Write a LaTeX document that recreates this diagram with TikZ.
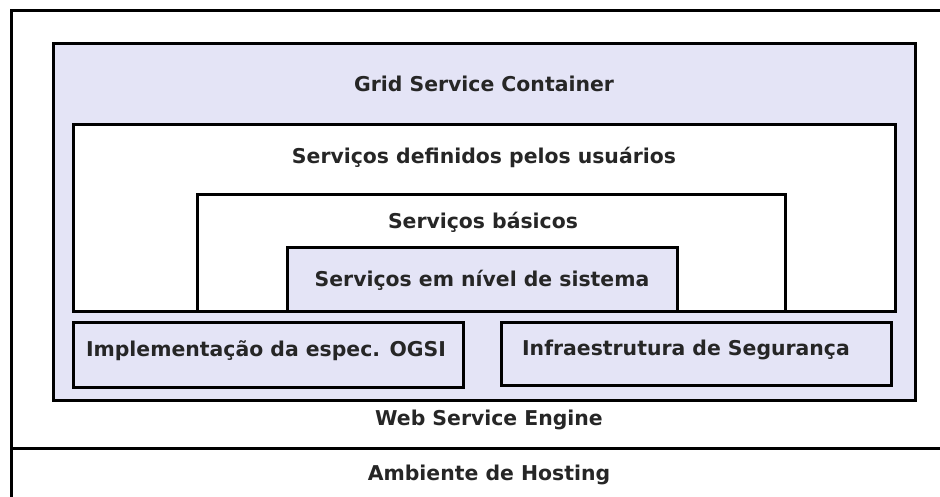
\documentclass[tikz,border=0pt]{standalone}
\usepackage{fontspec}
\setmainfont{DejaVu Sans}
\definecolor{lav}{RGB}{228,228,246}
\begin{document}
\begin{tikzpicture}[x=1pt,y=-1pt,
  box/.style={draw=black,line width=3pt,anchor=north west,inner sep=0pt,outer sep=0pt},
  lbl/.style={font=\fontsize{20.4}{24}\selectfont\bfseries,inner sep=0pt,text=black!85}]
\useasboundingbox (0,0) rectangle (940,497);
\fill[white] (0,0) rectangle (940,497);
% outer frame
\node[box,minimum width=960pt,minimum height=520pt] (host) at (11,11) {};
\coordinate (hl) at (11,448);
\coordinate (hr) at (960,448);
\draw[line width=3pt] (hl) -- (hr);
% grid service container
\node[box,fill=lav,minimum width=862pt,minimum height=356pt] (gsc) at (53,44) {};
\node[box,fill=white,minimum width=822pt,minimum height=186pt] (user) at (73,125) {};
\node[box,fill=white,minimum width=588pt,minimum height=116pt] (basic) at (197,195) {};
\node[box,fill=lav,minimum width=390pt,minimum height=63pt] (sys) at (287,248) {};
\node[box,fill=lav,minimum width=390pt,minimum height=65pt] (ogsi) at (73,322) {};
\node[box,fill=lav,minimum width=390pt,minimum height=63pt] (sec) at (501,322) {};
% labels
\node[lbl] (tgsc) at (484,84) {Grid Service Container};
\node[lbl] (tuser) at (484,157) {Serviços definidos pelos usuários};
\node[lbl] (tbasic) at (483,222) {Serviços básicos};
\node[lbl] (tsys) at (482,280) {Serviços em nível de sistema};
\node[lbl] (togsi) at (266,351) {Implementação da espec. OGSI};
\node[lbl] (tsec) at (686,350) {Infraestrutura de Segurança};
\node[lbl] (tweb) at (489,420) {Web Service Engine};
\node[lbl] (thost) at (489,475) {Ambiente de Hosting};
\end{tikzpicture}
\end{document}
